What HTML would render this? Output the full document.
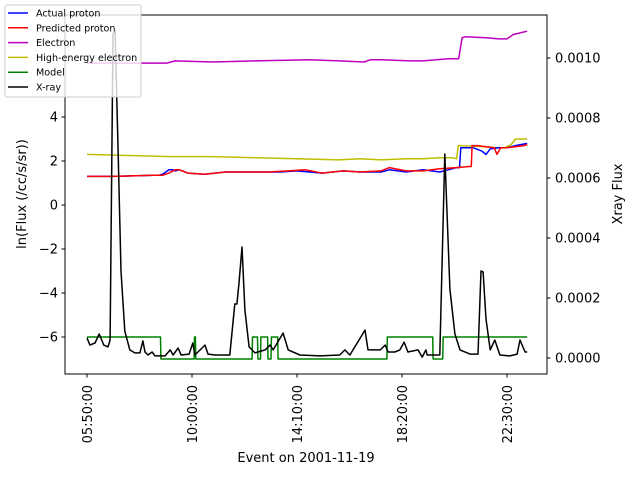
<!DOCTYPE html>
<html><head><meta charset="utf-8"><style>
body{margin:0;background:#fff}
svg{display:block;font-family:"DejaVu Sans","Liberation Sans",sans-serif}
</style></head><body>
<svg id="chart" width="640" height="480" viewBox="0 0 640 480">
<g id="plot"></g>
<g id="axes"></g>
<g id="legend"></g>
</svg>
<script>
// minutes since 05:50:00
const xTickMinutes=[0,250,500,750,1000];
const xTickLabels=["05:50:00","10:00:00","14:10:00","18:20:00","22:30:00"];
const leftTicks=[-6,-4,-2,0,2,4];
const rightTicks=[0,0.0002,0.0004,0.0006,0.0008,0.0010];
const rightTickLabels=["0.0000","0.0002","0.0004","0.0006","0.0008","0.0010"];

const electronT=[0,100,190,210,300,400,530,600,660,674,700,770,800,860,885,893,900,950,980,1000,1015,1048];
const electronV=[6.45,6.45,6.45,6.55,6.5,6.55,6.6,6.55,6.5,6.6,6.6,6.55,6.55,6.65,6.65,7.6,7.65,7.6,7.55,7.55,7.75,7.9];
const heT=[0,100,200,300,400,500,600,650,700,760,800,840,870,880,884,950,975,995,1010,1020,1048];
const heV=[2.3,2.25,2.2,2.2,2.15,2.1,2.05,2.1,2.05,2.1,2.1,2.15,2.15,2.1,2.7,2.65,2.6,2.6,2.75,3.0,3.0];
const actualT=[0,60,160,170,180,195,205,210,220,240,280,330,400,430,460,500,560,610,650,700,720,760,800,840,860,870,880,887,890,920,940,950,960,980,1000,1020,1048];
const actualV=[1.3,1.3,1.35,1.35,1.4,1.6,1.6,1.55,1.6,1.45,1.4,1.5,1.5,1.5,1.5,1.55,1.45,1.55,1.5,1.5,1.6,1.5,1.6,1.5,1.6,1.65,1.7,1.7,2.6,2.6,2.45,2.3,2.55,2.6,2.6,2.7,2.8];
const predT=[0,60,160,180,195,210,220,240,280,330,400,430,480,520,560,610,650,700,720,760,800,840,880,910,915,917,930,950,970,976,985,1000,1020,1040,1048];
const predV=[1.3,1.3,1.35,1.35,1.45,1.6,1.6,1.45,1.4,1.5,1.5,1.5,1.55,1.6,1.45,1.55,1.5,1.55,1.7,1.55,1.55,1.65,1.7,1.75,1.75,2.7,2.7,2.65,2.6,2.3,2.6,2.6,2.65,2.7,2.75];
const modelT=[0,175,176,255,256,258,259,393,394,406,407,413,414,430,431,438,439,454,455,714,715,823,824,847,848,1048];
const modelV=[-6,-6,-7,-7,-6,-6,-7,-7,-6,-6,-7,-7,-6,-6,-7,-7,-6,-6,-7,-7,-6,-6,-7,-7,-6,-6];
const xrayT=[0,7,19,29,40,50,55,62,67,74,81,90,102,114,126,133,138,145,155,162,186,198,205,217,224,243,252,257,281,288,305,340,352,357,362,369,376,386,400,424,436,443,467,479,507,555,602,614,626,662,669,698,710,717,733,745,755,764,788,798,807,810,840,852,864,876,888,912,931,938,943,950,960,971,983,1007,1024,1031,1043,1048];
const xrayV=[0.000067,0.000043,0.00005,0.00008,0.000043,0.000037,0.00006,0.00108,0.00109,0.00069,0.00029,0.00009,0.000027,0.000017,0.000017,0.000057,0.00002,0.00001,0.00002,0.000007,0.000007,0.000027,0.00001,0.000033,0.00001,0.000013,0.00005,0.00001,0.000043,0.000013,0.00001,0.00001,0.00018,0.00018,0.00025,0.00037,0.00016,0.000037,0.000017,0.000027,0.000043,0.000027,0.000083,0.000027,0.00001,0.000007,0.00001,0.000027,0.00001,0.000093,0.000027,0.000027,0.000043,0.00002,0.00002,0.000027,0.000053,0.00002,0.000027,0.000003,0.000027,0.00001,0.00001,0.00068,0.00023,0.00008,0.000027,0.000013,0.000013,0.00029,0.000287,0.00013,0.000027,0.00006,0.00001,0.000007,0.000013,0.00006,0.00002,0.00002];

const L=65,R=547,T=15,B=374;
const xs=m=>87+m*105/250;
const yl=v=>205-22*v;
const yr=f=>358-f*300000;
const FS=13;
const NS="http://www.w3.org/2000/svg";
function mk(tag,attrs,parent){const e=document.createElementNS(NS,tag);for(const k in attrs)e.setAttribute(k,attrs[k]);parent.appendChild(e);return e;}
const plot=document.getElementById('plot'),axes=document.getElementById('axes'),leg=document.getElementById('legend');

function line(ts,vs,ysc,color,name){
  const d=ts.map((t,i)=>(i?'L':'M')+xs(t).toFixed(1)+' '+ysc(vs[i]).toFixed(1)).join(' ');
  const p=mk('path',{d:d,fill:'none',stroke:color,'stroke-width':1.5,'stroke-linejoin':'round'},plot);
  
  
}
line(electronT,electronV,yl,'#bf00bf','electron-line');
line(heT,heV,yl,'#bfbf00','high-energy-electron-line');
line(actualT,actualV,yl,'#0000ff','actual-proton-line');
line(predT,predV,yl,'#ff0000','predicted-proton-line');
line(modelT,modelV,yl,'#008000','model-line');
line(xrayT,xrayV,yr,'#000000','xray-line');

const fr=mk('rect',{x:L,y:T,width:R-L,height:B-T,fill:'none',stroke:'#000','stroke-width':1},axes);



leftTicks.forEach(v=>{
  const y=yl(v);
  mk('line',{x1:L-3.5,x2:L,y1:y,y2:y,stroke:'#000'},axes);
  const t=mk('text',{x:L-7,y:y+4.5,'text-anchor':'end','font-size':FS},axes);
  t.textContent=v<0?'\u2212'+(-v):String(v);
  
  
});
rightTicks.forEach((v,i)=>{
  const y=yr(v);
  mk('line',{x1:R,x2:R+3.5,y1:y,y2:y,stroke:'#000'},axes);
  const t=mk('text',{x:R+8,y:y+4.5,'font-size':FS},axes);
  t.textContent=rightTickLabels[i];
  
  
});
xTickMinutes.forEach((m,i)=>{
  const x=xs(m);
  mk('line',{x1:x,x2:x,y1:B,y2:B+3.5,stroke:'#000'},axes);
  const t=mk('text',{x:0,y:0,'text-anchor':'end','font-size':FS,transform:`translate(${x+4.8},${B+11}) rotate(-90)`},axes);
  t.textContent=xTickLabels[i];
  
  
});
let t=mk('text',{x:306,y:462,'text-anchor':'middle','font-size':FS},axes);
t.textContent='Event on 2001-11-19';


t=mk('text',{x:0,y:0,'text-anchor':'middle','font-size':FS,transform:'translate(26,194) rotate(-90)'},axes);
t.textContent='ln(Flux (/cc/s/sr))';


t=mk('text',{x:0,y:0,'text-anchor':'middle','font-size':FS,transform:'translate(622,194) rotate(-90)'},axes);
t.textContent='Xray Flux';



mk('rect',{x:5,y:5,width:136,height:92,rx:2,fill:'#fff','fill-opacity':0.8,stroke:'#ccc'},leg);
const legNames=["Actual proton","Predicted proton","Electron","High-energy electron","Model","X-ray"];
const legColors=['#0000ff','#ff0000','#bf00bf','#bfbf00','#008000','#000000'];
legNames.forEach((n,i)=>{
  const y=13+i*14.8;
  const g=mk('g',{},leg);
  
  
  mk('line',{x1:8,x2:28,y1:y,y2:y,stroke:legColors[i],'stroke-width':1.5},g);
  const tx=mk('text',{x:36,y:y+3.5,'font-size':9.6},g);
  tx.textContent=n;
});
</script>
</body></html>
